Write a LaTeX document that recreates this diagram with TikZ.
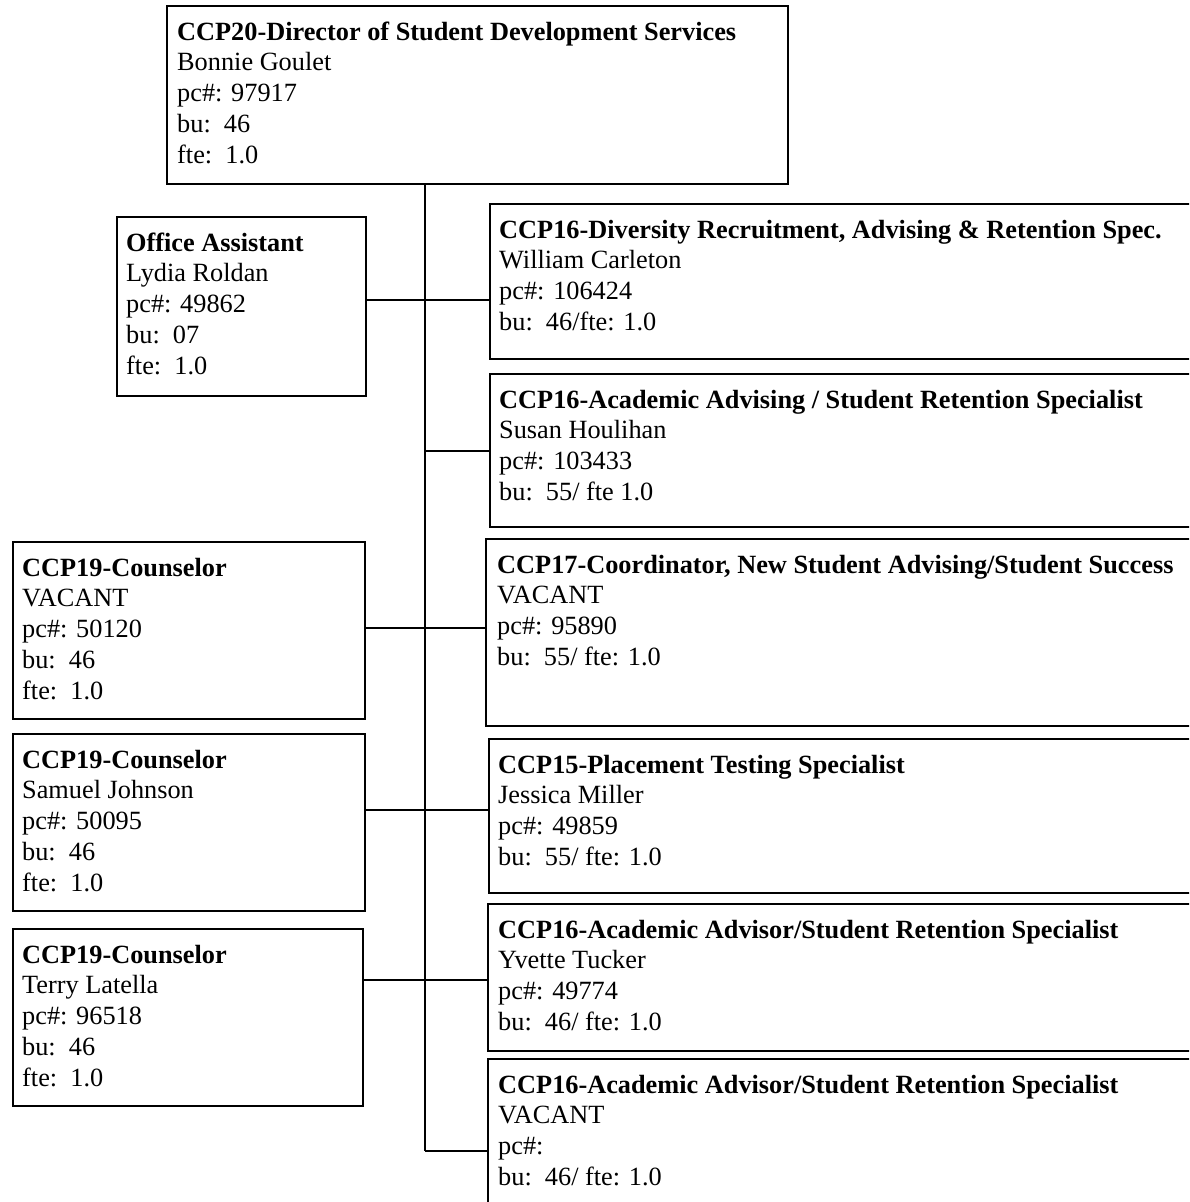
\documentclass[tikz,border=0pt]{standalone}
\usepackage{fontspec}
\setmainfont{Liberation Serif}
\usetikzlibrary{calc}
\begin{document}
\begin{tikzpicture}[x=1pt,y=-1pt,
  box/.style={draw,line width=2.3pt,inner sep=0pt,anchor=north west,rectangle},
  txt/.style={anchor=north west,inner sep=0pt,align=left,
    font=\fontsize{26.3}{30.7}\selectfont},
  conn/.style={line width=1.5pt},
  trunk/.style={line width=2pt}]
\useasboundingbox (0,0) rectangle (1189,1202);
\clip (0,0) rectangle (1189,1202);
\newcommand{\fl}{\rule{0pt}{24pt}}
% boxes: minimum width / height from pixel extents
\node[box,minimum width=621pt,minimum height=178pt] (top) at (166,5) {};
\node[box,minimum width=249pt,minimum height=179pt] (oa) at (116,216) {};
\node[box,minimum width=711pt,minimum height=155pt] (r1) at (489,203) {};
\node[box,minimum width=711pt,minimum height=153pt] (r2) at (489,373) {};
\node[box,minimum width=715pt,minimum height=187pt] (r3) at (485,538) {};
\node[box,minimum width=712pt,minimum height=154pt] (r4) at (488,738) {};
\node[box,minimum width=713pt,minimum height=147pt] (r5) at (487,903) {};
\node[box,minimum width=713pt,minimum height=170pt] (r6) at (487,1058) {};
\node[box,minimum width=352pt,minimum height=177pt] (l1) at (12,541) {};
\node[box,minimum width=352pt,minimum height=177pt] (l2) at (12,733) {};
\node[box,minimum width=350pt,minimum height=177pt] (l3) at (12,928) {};
% texts
\node[txt] (ttop) at ($(top.north west)+(11,11)$) {\fl\bfseries CCP20-Director of Student Development Services\\Bonnie Goulet\\pc\#: 97917\\bu:\ \ 46\\fte:\ \ 1.0};
\node[txt] (toa) at ($(oa.north west)+(10,11)$) {\fl\bfseries Office Assistant\\Lydia Roldan\\pc\#: 49862\\bu:\ \ 07\\fte:\ \ 1.0};
\node[txt] (tr1) at ($(r1.north west)+(10,11)$) {\fl\bfseries CCP16-Diversity Recruitment, Advising \& Retention Spec.\\William Carleton\\pc\#: 106424\\bu:\ \ 46/fte: 1.0};
\node[txt] (tr2) at ($(r2.north west)+(10,11)$) {\fl\bfseries CCP16-Academic Advising / Student Retention Specialist\\Susan Houlihan\\pc\#: 103433\\bu:\ \ 55/ fte 1.0};
\node[txt] (tr3) at ($(r3.north west)+(12,11)$) {\fl\bfseries CCP17-Coordinator, New Student Advising/Student Success\\VACANT\\pc\#: 95890\\bu:\ \ 55/ fte: 1.0};
\node[txt] (tr4) at ($(r4.north west)+(10,11)$) {\fl\bfseries CCP15-Placement Testing Specialist\\Jessica Miller\\pc\#: 49859\\bu:\ \ 55/ fte: 1.0};
\node[txt] (tr5) at ($(r5.north west)+(11,11)$) {\fl\bfseries CCP16-Academic Advisor/Student Retention Specialist\\Yvette Tucker\\pc\#: 49774\\bu:\ \ 46/ fte: 1.0};
\node[txt] (tr6) at ($(r6.north west)+(11,11)$) {\fl\bfseries CCP16-Academic Advisor/Student Retention Specialist\\VACANT\\pc\#:\\bu:\ \ 46/ fte: 1.0};
\node[txt] (tl1) at ($(l1.north west)+(10,11)$) {\fl\bfseries CCP19-Counselor\\VACANT\\pc\#: 50120\\bu:\ \ 46\\fte:\ \ 1.0};
\node[txt] (tl2) at ($(l2.north west)+(10,11)$) {\fl\bfseries CCP19-Counselor\\Samuel Johnson\\pc\#: 50095\\bu:\ \ 46\\fte:\ \ 1.0};
\node[txt] (tl3) at ($(l3.north west)+(10,11)$) {\fl\bfseries CCP19-Counselor\\Terry Latella\\pc\#: 96518\\bu:\ \ 46\\fte:\ \ 1.0};
% junctions on the trunk
\coordinate (j1) at (425,300);
\coordinate (j2) at (425,451);
\coordinate (j3) at (425,628);
\coordinate (j4) at (425,810);
\coordinate (j5) at (425,980);
\coordinate (j6) at (425,1151);
% trunk
\draw[trunk] (j6 |- top.south) -- (j6);
% branches
\draw[conn] (j1 -| oa.east) -- (j1 -| r1.west);
\draw[conn] (j2) -- (j2 -| r2.west);
\draw[conn] (j3 -| l1.east) -- (j3 -| r3.west);
\draw[conn] (j4 -| l2.east) -- (j4 -| r4.west);
\draw[conn] (j5 -| l3.east) -- (j5 -| r5.west);
\draw[conn] (j6) -- (j6 -| r6.west);
\end{tikzpicture}
\end{document}
